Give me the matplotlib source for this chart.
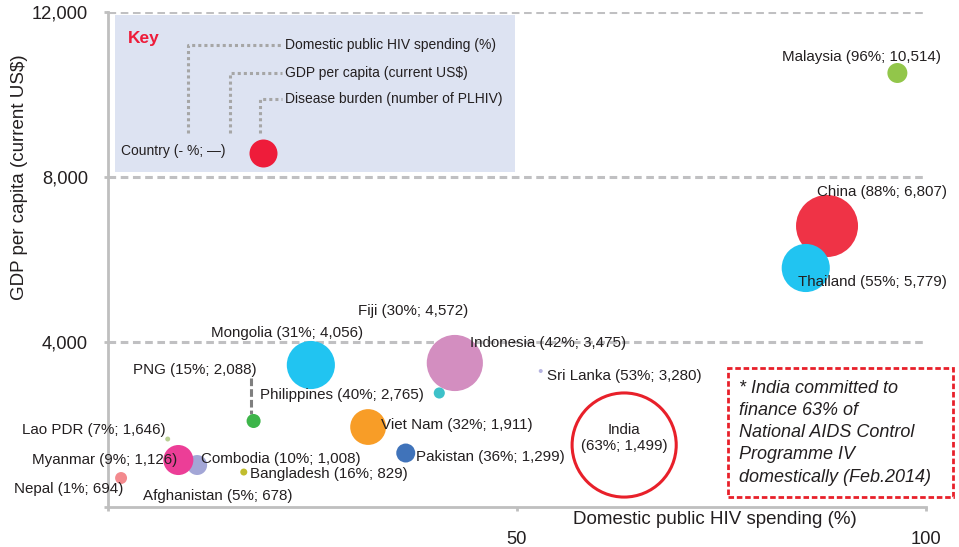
import matplotlib.pyplot as plt
from matplotlib.patches import Rectangle
import numpy as np

plt.rcParams['font.family'] = ['Liberation Sans', 'DejaVu Sans']

TXT = '#231f20'

# bubbles: domestic public HIV spending (%), GDP per capita (US$), PLHIV (thousands)
names = ["China", "Thailand", "Indonesia", "(cyan)", "Viet Nam", "Malaysia",
         "Combodia", "Myanmar", "Pakistan", "PNG", "Nepal", "Philippines",
         "Bangladesh", "Lao PDR", "Sri Lanka"]
spend = [87.9, 85.3, 42.4, 24.8, 31.8, 96.5, 10.9, 8.6, 36.4, 17.8, 1.6, 40.5, 16.6, 7.3, 52.9]
gdp = [6812, 5794, 3491, 3442, 1939, 10521, 1018, 1139, 1309, 2085, 703, 2764, 848, 1648, 3297]
plhiv = [780, 470, 640, 470, 260, 81, 81, 183, 73, 40, 29, 25, 10, 5, 3.2]
colors = ['#ef3346', '#21c4f1', '#d38ec0', '#21c4f1', '#f89d27', '#92c64a',
          '#a3a6d6', '#ec3e97', '#4073ba', '#3db54a', '#f38a8e', '#3dc1c9',
          '#c1bd2e', '#b9cf94', '#b6b4e0']

india_spend = 63.1
india_gdp = 1503
india_plhiv = 2200

label_texts = ["Malaysia (96%; 10,514)", "China (88%; 6,807)", "Thailand (55%; 5,779)",
               "Fiji (30%; 4,572)", "Mongolia (31%; 4,056)", "Indonesia (42%; 3,475)",
               "Sri Lanka (53%; 3,280)", "PNG (15%; 2,088)", "Philippines (40%; 2,765)",
               "Lao PDR (7%; 1,646)", "Viet Nam (32%; 1,911)", "Myanmar (9%; 1,126)",
               "Combodia (10%; 1,008)", "Pakistan (36%; 1,299)", "Bangladesh (16%; 829)",
               "Nepal (1%; 694)", "Afghanistan (5%; 678)"]
# label anchor (left, middle) in data units
label_x = [82.4, 86.7, 84.4, 30.6, 12.6, 44.3, 53.7, 3.1, 18.6, -10.5, 33.4, -9.3, 11.4, 37.7, 17.4, -11.5, 4.3]
label_y = [10897, 7636, 5455, 4752, 4218, 3976, 3176, 3321, 2715, 1867, 1988, 1139, 1164, 1212, 800, 436, 267]


def bubble_size(b):
    r_px = 31 * np.sqrt(np.asarray(b) / 780.0)
    return (2 * r_px * 0.72) ** 2


fig = plt.figure(figsize=(9.59, 5.47), dpi=100)
ax = fig.add_axes([0.1126, 0.0731, 0.853, 0.905])
ax.set_xlim(0, 100)
ax.set_ylim(0, 12000)

for gy in [4000, 8000, 12000]:
    ax.axhline(gy, color='#c0c0c2', lw=2.2, linestyle=(0, (2.5, 1.5)), zorder=1)

ax.scatter(spend, gdp, s=bubble_size(plhiv), c=colors, linewidths=0, zorder=3)
ax.scatter([india_spend], [india_gdp], s=bubble_size([india_plhiv]), facecolors='none',
           edgecolors='#e8202a', linewidths=2.2, zorder=3)
ax.text(india_spend, india_gdp + 170, "India\n(63%; 1,499)", ha='center', va='center',
        fontsize=10.9, color=TXT, zorder=5)

for t, x, y in zip(label_texts, label_x, label_y):
    ax.text(x, y, t, ha='left', va='center', fontsize=10.9, color=TXT, zorder=5, clip_on=False)

# PNG leader line
ax.plot([17.5, 17.5], [3127, 2255], color='#7f7f7f', lw=2.2, linestyle=(0, (2.5, 1)), zorder=2)

# key box
ax.add_patch(Rectangle((0.86, 8121), 48.9, 3806, facecolor='#dde3f2', edgecolor='none', zorder=2))
ax.text(2.4, 11345, "Key", color='#ee1c3a', fontsize=12.5, fontweight='bold', va='center', zorder=4)
key_lines = ["Domestic public HIV spending (%)", "GDP per capita (current US$)",
             "Disease burden (number of PLHIV)"]
key_y = [11200, 10521, 9891]
key_x = [9.8, 14.9, 18.6]
for t, kx, ky in zip(key_lines, key_x, key_y):
    ax.plot([kx, kx, 21.3], [9067, ky, ky], color='#a6a6a6', lw=2.2,
            linestyle=(0, (1, 1)), zorder=3)
    ax.text(21.6, ky, t, fontsize=10, color=TXT, va='center', zorder=4)
ax.text(1.6, 8630, "Country (- %; \u2014)", fontsize=10, color=TXT, va='center', zorder=4)
ax.scatter([18.9], [8582], s=(2 * 14 * 0.72) ** 2, color='#ee1c3a', linewidths=0, zorder=4)

# note box
ax.add_patch(Rectangle((75.8, 242), 27.5, 3128, fill=False, edgecolor='#e8202a', lw=2,
                       linestyle=(0, (2, 1)), clip_on=False, zorder=4))
ax.text(77.1, 1800, "* India committed to\nfinance 63% of\nNational AIDS Control\n"
        "Programme IV\ndomestically (Feb.2014)", fontsize=13, style='italic', color=TXT,
        ha='left', va='center', linespacing=1.4, zorder=5, clip_on=False)

# axes styling
for side in ['top', 'right']:
    ax.spines[side].set_visible(False)
for side in ['left', 'bottom']:
    ax.spines[side].set_color('#bfbfbf')
    ax.spines[side].set_linewidth(2)
ax.set_xticks([0, 50, 100])
ax.set_xticklabels(['', '50', '100'])
ax.set_yticks([0, 4000, 8000, 12000])
ax.set_yticklabels(['', '4,000', '8,000', '12,000'])
ax.tick_params(axis='x', length=3, width=2, color='#bfbfbf', pad=14, labelsize=13.2, labelcolor=TXT)
ax.tick_params(axis='y', length=3, width=2, color='#bfbfbf', pad=11.5, labelsize=13.2, labelcolor=TXT)

ax.text(0.742, -0.026, "Domestic public HIV spending (%)", transform=ax.transAxes,
        ha='center', va='center', fontsize=13.5, color=TXT)
ax.text(-0.108, 0.667, "GDP per capita (current US$)", transform=ax.transAxes, rotation=90,
        ha='center', va='center', fontsize=13.5, color=TXT)

fig.savefig('out.png', dpi=100)
